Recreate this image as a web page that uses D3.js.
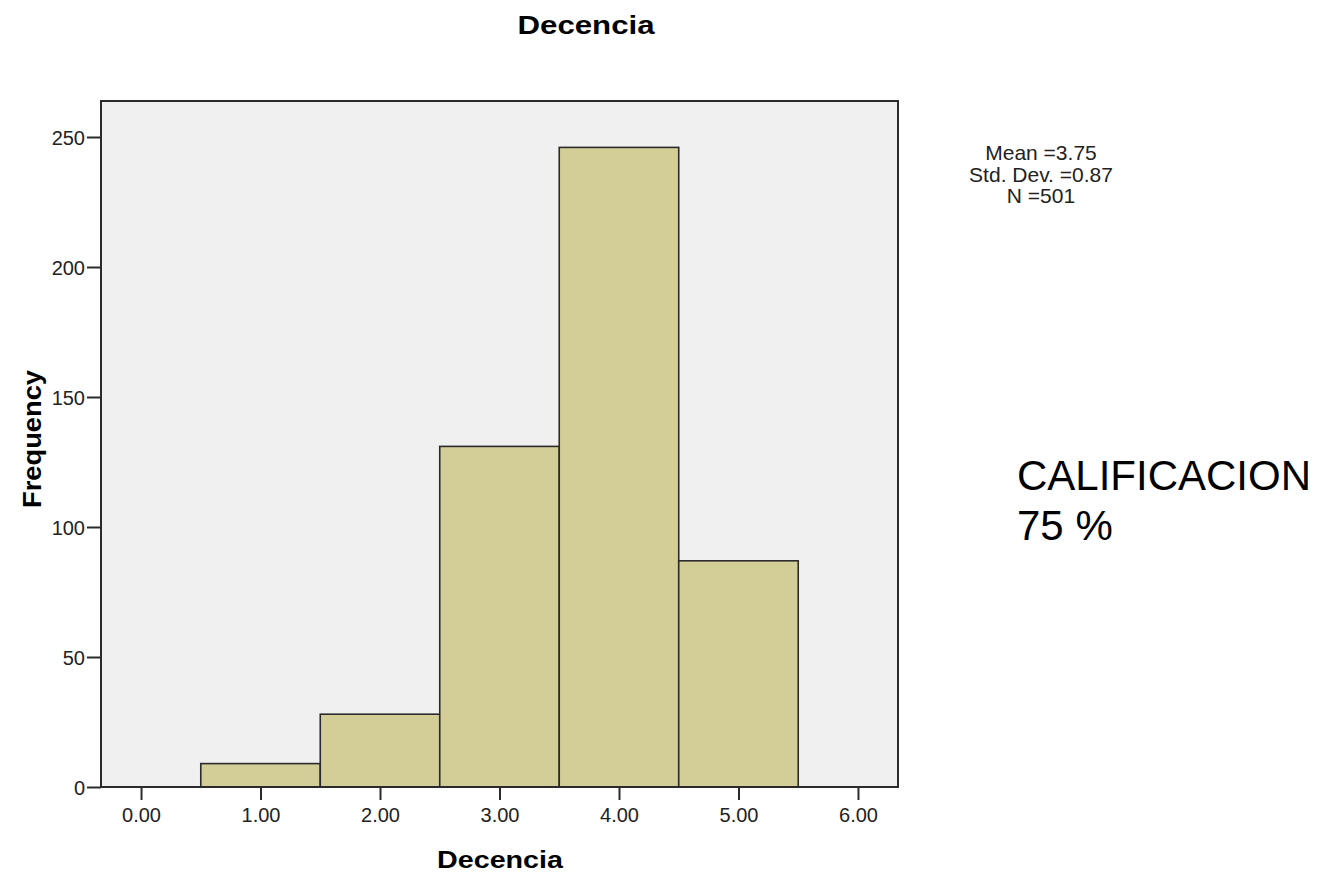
<!DOCTYPE html>
<html>
<head>
<meta charset="utf-8">
<script src="https://cdn.jsdelivr.net/npm/d3@7"></script>
<style>
  body { margin: 0; background: #fff; }
  text { font-family: "Liberation Sans", Arial, sans-serif; }
</style>
</head>
<body>
<div id="chart"></div>
<script>
// histogram bins (midpoints) and counts
const binCenters = [1, 2, 3, 4, 5];
const counts = [9, 28, 131, 246, 87];
const xTicks = [0, 1, 2, 3, 4, 5, 6];
const yTicks = [0, 50, 100, 150, 200, 250];
const statLines = ["Mean =3.75", "Std. Dev. =0.87", "N =501"];
const noteLines = ["CALIFICACION", "75 %"];

const W = 1322, H = 877;
const plot = {left: 101, right: 898, top: 101, bottom: 787};

const svg = d3.select("#chart").append("svg")
    .attr("width", W)
    .attr("height", H);

const x = d3.scaleLinear().domain([-0.335, 6.335]).range([plot.left, plot.right]);
const y = d3.scaleLinear().domain([0, 250]).range([plot.bottom, 137]);

// background
svg.append("rect")
    .attr("x", plot.left).attr("y", plot.top)
    .attr("width", plot.right - plot.left)
    .attr("height", plot.bottom - plot.top)
    .attr("fill", "#f0f0f0");

// bars
svg.selectAll(".bar")
    .data(binCenters)
    .enter()
    .append("rect")
    .attr("class", "bar")
    .attr("x", d => x(d - 0.5))
    .attr("width", d => x(d + 0.5) - x(d - 0.5))
    .attr("y", (d, i) => y(counts[i]))
    .attr("height", (d, i) => y(0) - y(counts[i]))
    .attr("fill", "#d3ce98")
    .attr("stroke", "#2b2b2b")
    .attr("stroke-width", 1.6);

// frame
svg.append("rect")
    .attr("x", plot.left).attr("y", plot.top)
    .attr("width", plot.right - plot.left)
    .attr("height", plot.bottom - plot.top)
    .attr("fill", "none")
    .attr("stroke", "#2b2b2b")
    .attr("stroke-width", 2);

// axes
const xAxis = svg.append("g")
    .attr("transform", "translate(0," + plot.bottom + ")")
    .call(d3.axisBottom(x).tickValues(xTicks).tickFormat(d3.format(".2f")).tickSize(13).tickPadding(2).tickSizeOuter(0));
const yAxis = svg.append("g")
    .attr("transform", "translate(" + plot.left + ",0)")
    .call(d3.axisLeft(y).tickValues(yTicks).tickSize(14).tickPadding(2).tickSizeOuter(0));

[xAxis, yAxis].forEach(g => {
    g.select(".domain").remove();
    g.selectAll(".tick line").attr("stroke", "#2b2b2b").attr("stroke-width", 2);
    g.selectAll(".tick text")
        .attr("fill", "#222")
        .style("font-size", "20px")
        .style("font-family", "'Liberation Sans', Arial, sans-serif");
});
xAxis.selectAll(".tick text").attr("y", 35).attr("dy", 0);
yAxis.selectAll(".tick text").attr("dy", "0.36em");

// titles (the original bold face is wider, so stretch to measured widths)
svg.append("text")
    .attr("x", 586).attr("y", 34)
    .attr("text-anchor", "middle")
    .attr("textLength", 137).attr("lengthAdjust", "spacingAndGlyphs")
    .style("font-size", "26px").style("font-weight", "bold")
    .text("Decencia");

svg.append("text")
    .attr("x", 500).attr("y", 868)
    .attr("text-anchor", "middle")
    .attr("textLength", 126).attr("lengthAdjust", "spacingAndGlyphs")
    .style("font-size", "24px").style("font-weight", "bold")
    .text("Decencia");

svg.append("text")
    .attr("transform", "translate(41,439) rotate(-90)")
    .attr("text-anchor", "middle")
    .attr("textLength", 138).attr("lengthAdjust", "spacingAndGlyphs")
    .style("font-size", "26px").style("font-weight", "bold")
    .text("Frequency");

// stats box
svg.selectAll(".stat")
    .data(statLines)
    .enter()
    .append("text")
    .attr("class", "stat")
    .attr("x", 1041)
    .attr("y", (d, i) => 160 + i * 21.5)
    .attr("text-anchor", "middle")
    .style("font-size", "21px")
    .attr("fill", "#222")
    .text(d => d);

// note
svg.selectAll(".note")
    .data(noteLines)
    .enter()
    .append("text")
    .attr("class", "note")
    .attr("x", 1017)
    .attr("y", (d, i) => 490 + i * 50)
    .style("font-size", "42px")
    .text(d => d);
</script>
</body>
</html>
